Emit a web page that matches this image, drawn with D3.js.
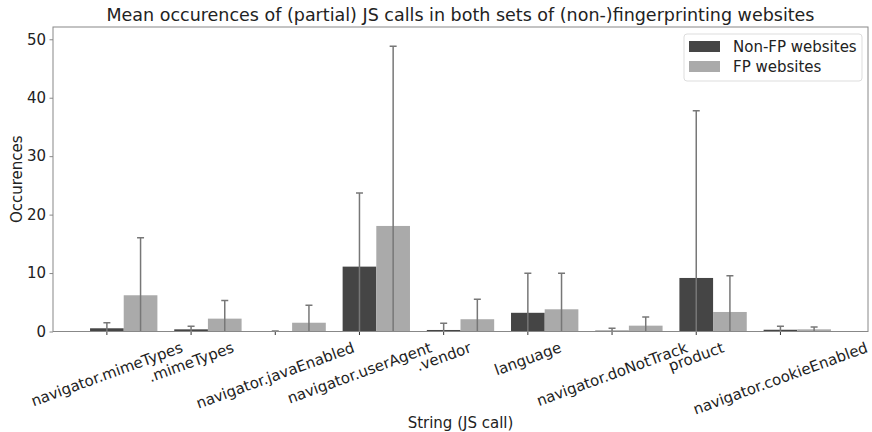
<!DOCTYPE html>
<html>
<head>
<meta charset="utf-8">
<script src="https://cdn.jsdelivr.net/npm/d3@7"></script>
<style>
  body { margin: 0; background: #fff; }
  text { font-family: "DejaVu Sans", sans-serif; fill: #222; }
</style>
</head>
<body>
<div id="chart"></div>
<script>
// categories on the x axis
var calls = ["navigator.mimeTypes", ".mimeTypes", "navigator.javaEnabled", "navigator.userAgent",
             ".vendor", "language", "navigator.doNotTrack", "product", "navigator.cookieEnabled"];

// mean occurences and standard deviation for each set
var nonFpMean = [0.55, 0.37, 0.02, 11.1, 0.26, 3.2, 0.15, 9.16, 0.3];
var nonFpStd  = [0.95, 0.53, 0.05, 12.6, 1.15, 6.76, 0.4, 28.6, 0.6];
var fpMean    = [6.2, 2.2, 1.5, 18.06, 2.1, 3.8, 1.0, 3.34, 0.37];
var fpStd     = [9.86, 3.1, 3.0, 30.74, 3.4, 6.16, 1.5, 6.22, 0.4];

var yTicks = [0, 10, 20, 30, 40, 50];
var seriesNames = ["Non-FP websites", "FP websites"];

function draw() {
    var width = 872, height = 432;
    var margin = {left: 53, right: 4, top: 27, bottom: 100.5};
    var barW = 0.4;

    var svg = d3.select("#chart").append("svg")
        .attr("width", width).attr("height", height);

    var x = d3.scaleLinear().domain([-0.64, 9.04]).range([margin.left, width - margin.right]);
    var y = d3.scaleLinear().domain([0, 52.1]).range([height - margin.bottom, margin.top]);

    var series = [
        {name: seriesNames[0], mean: nonFpMean, std: nonFpStd, offset: 0, color: "#454545"},
        {name: seriesNames[1], mean: fpMean, std: fpStd, offset: barW, color: "#aaaaaa"}
    ];

    var plot = svg.append("g");
    plot.append("clipPath").attr("id", "clip").append("rect")
        .attr("x", margin.left).attr("y", margin.top)
        .attr("width", width - margin.left - margin.right)
        .attr("height", height - margin.top - margin.bottom);

    //bars
    series.forEach(function(s) {
        plot.selectAll(null).data(s.mean).enter().append("rect")
            .attr("x", function(d, i) { return x(i + s.offset - barW / 2); })
            .attr("width", x(barW) - x(0))
            .attr("y", function(d) { return y(d); })
            .attr("height", function(d) { return y(0) - y(d); })
            .attr("fill", s.color);
    });

    //error bars (lower part gets clipped at 0)
    var errs = plot.append("g").attr("clip-path", "url(#clip)");
    series.forEach(function(s) {
        s.mean.forEach(function(m, i) {
            var cx = x(i + s.offset);
            errs.append("line")
                .attr("x1", cx).attr("x2", cx)
                .attr("y1", y(Math.max(0, m - s.std[i]))).attr("y2", y(m + s.std[i]))
                .attr("stroke", "#777").attr("stroke-width", 1.5);
            errs.append("line")
                .attr("x1", cx - 3.5).attr("x2", cx + 3.5)
                .attr("y1", y(m + s.std[i])).attr("y2", y(m + s.std[i]))
                .attr("stroke", "#777").attr("stroke-width", 1.5);
        });
    });

    //y axis
    var yAxis = svg.append("g")
        .attr("transform", "translate(" + margin.left + ",0)")
        .call(d3.axisLeft(y).tickValues(yTicks).tickSize(3.5).tickPadding(3.5));
    yAxis.select(".domain").remove();
    yAxis.selectAll("line").attr("stroke", "#888");
    yAxis.selectAll("text").style("font-size", "15px").attr("fill", "#222")
        .style("font-family", "DejaVu Sans");

    //x ticks
    svg.append("g").selectAll("line").data(calls).enter().append("line")
        .attr("x1", function(d, i) { return x(i); })
        .attr("x2", function(d, i) { return x(i); })
        .attr("y1", y(0)).attr("y2", y(0) + 3.5)
        .attr("stroke", "#333");

    //frame
    svg.append("rect")
        .attr("x", margin.left).attr("y", margin.top)
        .attr("width", width - margin.left - margin.right)
        .attr("height", height - margin.top - margin.bottom)
        .attr("fill", "none").attr("stroke", "#888").attr("stroke-width", 1);

    //rotated tick labels, centred under each tick like matplotlib does
    var rot = 20 * Math.PI / 180;
    svg.append("g").selectAll("text").data(calls).enter().append("text")
        .text(function(d) { return d; })
        .style("font-size", "15px")
        .attr("text-anchor", "middle")
        .attr("dominant-baseline", "central")
        .attr("transform", function(d, i) {
            var w = this.getComputedTextLength();
            var h = 17;
            var bh = w * Math.sin(rot) + h * Math.cos(rot);
            return "translate(" + x(i) + "," + (y(0) + 7.5 + bh / 2) + ") rotate(-20)";
        });

    //axis labels and title
    svg.append("text")
        .attr("x", (margin.left + width - margin.right) / 2).attr("y", 428)
        .attr("text-anchor", "middle").style("font-size", "15px")
        .text("String (JS call)");
    svg.append("text")
        .attr("transform", "translate(22," + (margin.top + height - margin.bottom) / 2 + ") rotate(-90)")
        .attr("text-anchor", "middle").style("font-size", "15px")
        .text("Occurences");
    svg.append("text")
        .attr("x", (margin.left + width - margin.right) / 2).attr("y", 21)
        .attr("text-anchor", "middle").style("font-size", "17.5px")
        .text("Mean occurences of (partial) JS calls in both sets of (non-)fingerprinting websites");

    //legend
    var legend = svg.append("g");
    legend.append("rect")
        .attr("x", 684).attr("y", 34).attr("width", 178).attr("height", 47)
        .attr("rx", 3).attr("fill", "#fff").attr("stroke", "#ddd");
    series.forEach(function(s, i) {
        legend.append("rect")
            .attr("x", 689).attr("y", 41 + i * 20).attr("width", 31).attr("height", 11)
            .attr("fill", s.color);
        legend.append("text")
            .attr("x", 733).attr("y", 52 + i * 20)
            .style("font-size", "15px")
            .text(s.name);
    });
}

draw();
</script>
</body>
</html>
